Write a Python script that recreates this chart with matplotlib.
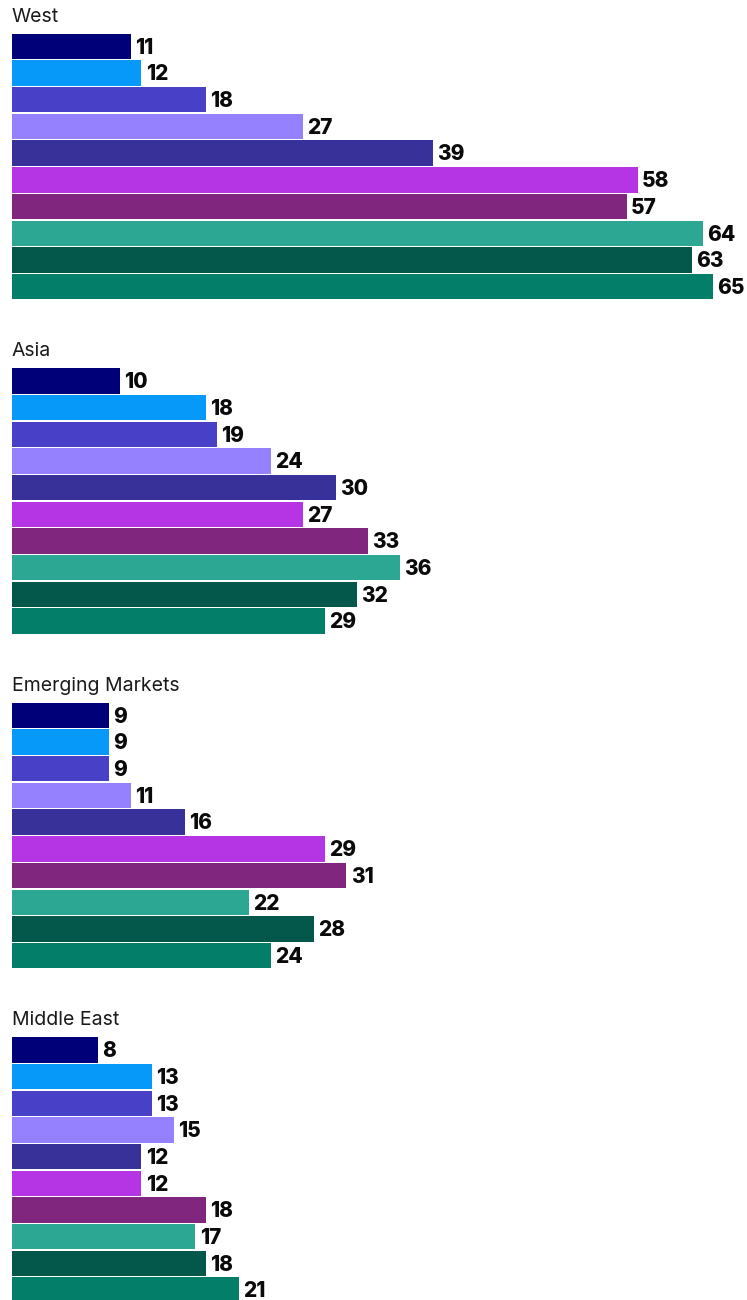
import matplotlib as mpl
mpl.use('Agg')
import matplotlib.pyplot as plt

plt.rcParams['font.family'] = ['Inter', 'DejaVu Sans']

regions = ['West', 'Asia', 'Emerging Markets', 'Middle East']
west = [11, 12, 18, 27, 39, 58, 57, 64, 63, 65]
asia = [10, 18, 19, 24, 30, 27, 33, 36, 32, 29]
emerging = [9, 9, 9, 11, 16, 29, 31, 22, 28, 24]
middle_east = [8, 13, 13, 15, 12, 12, 18, 17, 18, 21]
series = [west, asia, emerging, middle_east]

colors = ['#000078', '#0799FA', '#4940C8', '#9580FE', '#38319A',
          '#B535E5', '#80267F', '#2CA794', '#03574B', '#037E69']

W, H = 747, 1300
fig = plt.figure(figsize=(W / 100, H / 100), dpi=100)

px_per_unit = 10.79
left_px = 12
panel_h = 267
tops = [33, 367.5, 702, 1036.5]

for name, vals, top in zip(regions, series, tops):
    ax = fig.add_axes([left_px / W, 1 - (top + panel_h) / H,
                       (W - left_px) / W, panel_h / H])
    ypos = list(range(len(vals)))
    ax.barh(ypos, vals, height=0.95, color=colors)
    for y, v in zip(ypos, vals):
        ax.annotate(str(v), xy=(v, y), xytext=(3, 0.5), textcoords='offset points',
                    va='center_baseline', ha='left', fontsize=15, fontweight='heavy',
                    color='#0a0a0a')
    ax.set_xlim(0, (W - left_px) / px_per_unit)
    ax.set_ylim(len(vals) - 0.5, -0.5)
    ax.axis('off')
    ax.annotate(name, xy=(0, 1), xycoords='axes fraction', xytext=(0, 8),
                textcoords='offset points', va='baseline', ha='left',
                fontsize=14, color='#1a1a1a')

fig.savefig('out.png', dpi=100)
